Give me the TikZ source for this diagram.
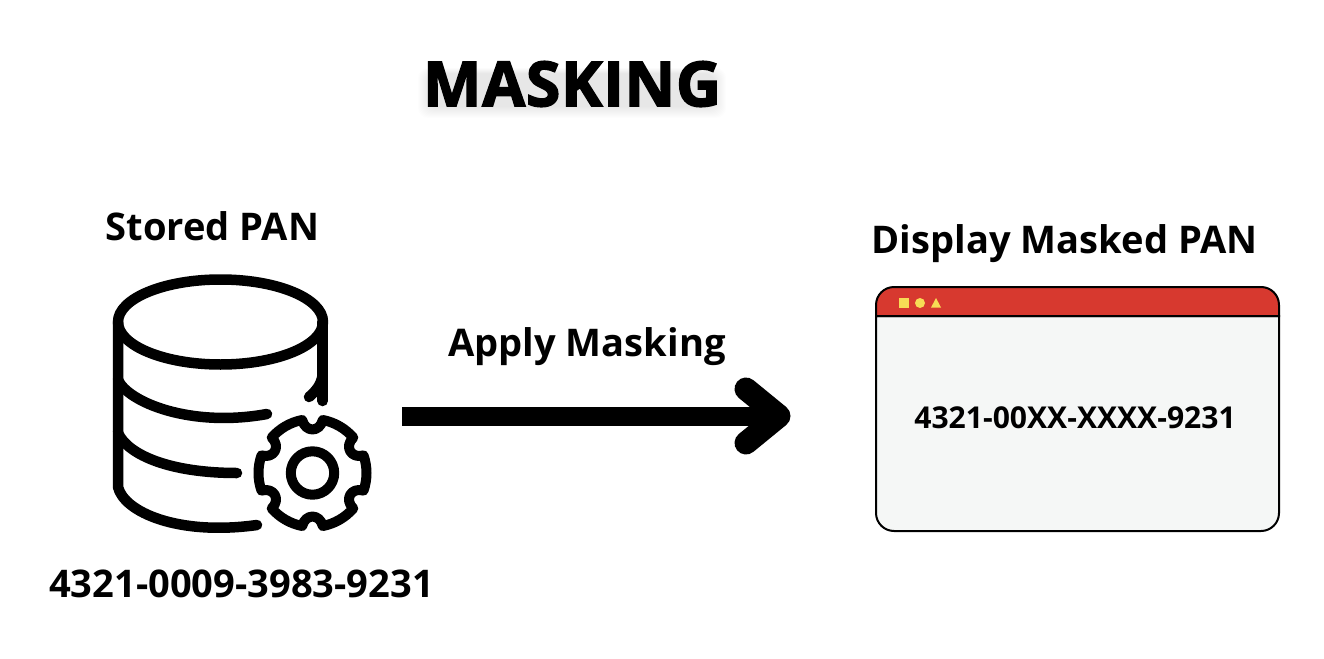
\documentclass[tikz,border=0pt]{standalone}
\usepackage{fontspec}
\setmainfont{Open Sans}
\newfontfamily\headingfont[FakeBold=2.6,LetterSpace=1.5]{Open Sans Bold}
\usetikzlibrary{calc}
\definecolor{barred}{HTML}{D7392F}
\definecolor{panelgrey}{HTML}{F5F7F6}
\definecolor{iconyellow}{HTML}{F7DC55}
\tikzset{
  pixel/.style={x=1pt,y=-1pt},
  label/.style={inner sep=0pt,font=\bfseries\fontsize{38.1}{42}\selectfont},
  shown/.style={inner sep=0pt,font=\bfseries\fontsize{30.1}{34}\selectfont},
  heading/.style={inner sep=0pt,font=\headingfont\fontsize{62}{66}\selectfont},
  icon/.style={line width=10.5pt,line cap=round,line join=round},
  pointer/.style={line width=23pt,line cap=round,line join=round},
  flipped arc/.style={x radius=18,y radius=-18}
}
\begin{document}
\begin{tikzpicture}[pixel]
\useasboundingbox (0,0) rectangle (1324,658);

% faint haze under the heading, built up from nested rounded bars
\foreach \g in {1,...,12}
  \fill[black,opacity=.008,rounded corners=10pt]
    (430-\g,74-\g/2) rectangle (714+\g,106+\g);
\node[heading] (title) at (572,84) {MASKING};

\node[label] (stored) at (212.5,226) {Stored PAN};
\node[label] (display) at (1064.5,244) {Display Masked PAN};
\node[label] (apply) at (587,347) {Apply Masking};
\node[label] (pan) at (241.5,584) {4321-0009-3983-9231};

% database cylinder
\draw[icon] (220.5,322) ellipse [x radius=102.5,y radius=42.5];
\draw[icon] (118,322) -- (118,487)
  .. controls (124,512) and (178,536) .. (257,525);
\draw[icon] (118,380) .. controls (128,402) and (190,428) .. (267,414);
\draw[icon] (118,433) .. controls (128,455) and (170,473) .. (237,473);
\draw[icon] (322.7,322) -- (322.7,401);
\draw[icon] (322.7,375) .. controls (321,385) and (316,391) .. (309,397);

% gear on the cylinder: six lobes with rounded notches between them
\begin{scope}[shift={(312.5,473)}]
\begin{scope}[y=1pt]
  \coordinate (gearc) at (0,0);
  \draw[icon,line width=10pt] (gearc) circle [radius=21.7];
  \draw[icon,line width=10pt] (41:54)
    \foreach \a in {30,90,150,210,270,330}{
      arc [start angle=\a+11,end angle=\a+49,radius=54]
      .. controls (\a+50:41) and (\a+70:41) .. (\a+71:54)
    } -- cycle;
\end{scope}
\end{scope}

% masking arrow
\coordinate (from) at (402,416);
\coordinate (tip) at (779,416);
\draw[line width=19pt] (from) -- (tip);
\draw[pointer] (746,389) -- (tip) -- (746,443);

% result window
\draw[fill=panelgrey,line width=2pt] (876,316) -- (876,513)
  arc [start angle=180,end angle=270,flipped arc] -- (1261,531)
  arc [start angle=270,end angle=360,flipped arc] -- (1279,316) -- cycle;
\draw[fill=barred,line width=2pt] (876,316) -- (876,305)
  arc [start angle=180,end angle=90,flipped arc] -- (1261,287)
  arc [start angle=90,end angle=0,flipped arc] -- (1279,316) -- cycle;
\fill[iconyellow] (899,298) rectangle (909,307.5);
\fill[iconyellow] (920,303) circle [radius=5];
\fill[iconyellow] (931,307.5) -- (936,298) -- (941,307.5) -- cycle;
\node[shown] (masked) at (1075,417.5) {4321-00XX-XXXX-9231};
\end{tikzpicture}
\end{document}
